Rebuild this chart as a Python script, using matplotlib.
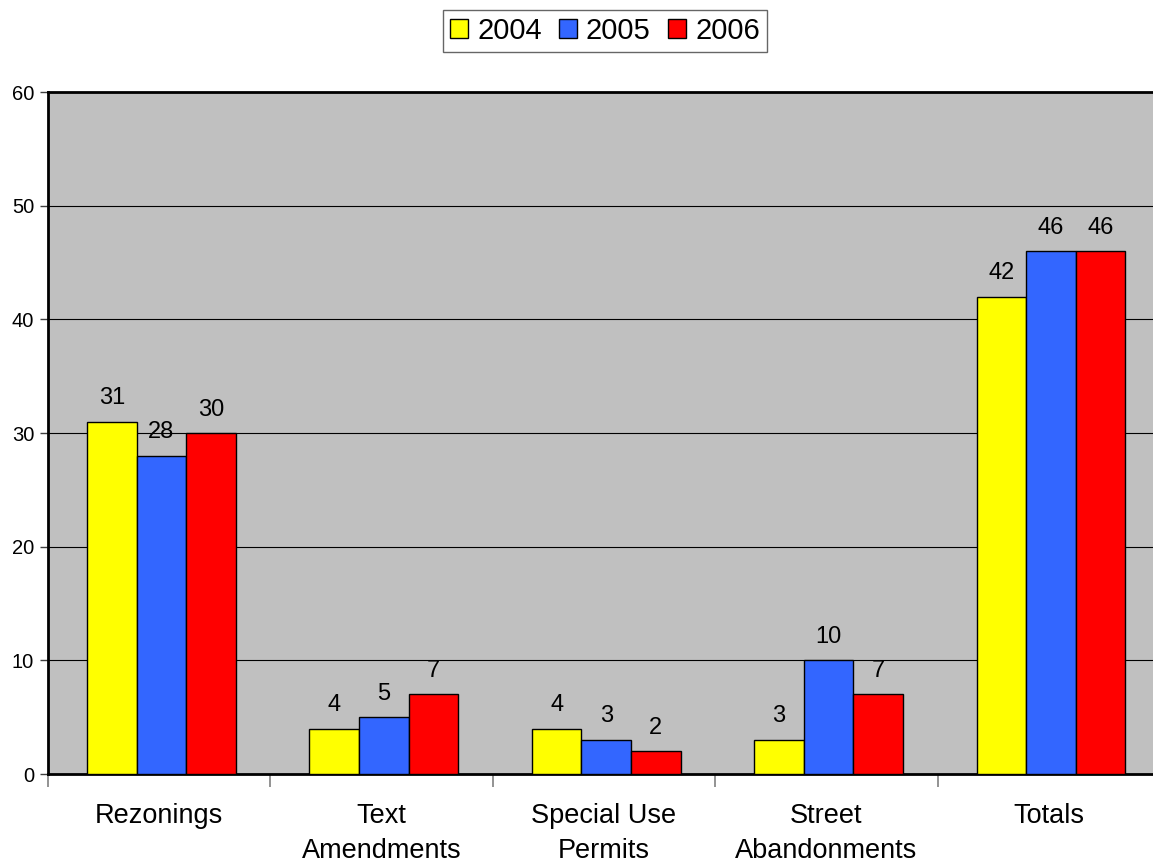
import numpy as np
import matplotlib.pyplot as plt

plt.rcParams['font.family'] = ['Liberation Sans', 'DejaVu Sans']

categories = ['Rezonings', 'Text\nAmendments', 'Special Use\nPermits', 'Street\nAbandonments', 'Totals']
years = ['2004', '2005', '2006']
vals_2004 = [31, 4, 4, 3, 42]
vals_2005 = [28, 5, 3, 10, 46]
vals_2006 = [30, 7, 2, 7, 46]
colors = ['#FFFF00', '#3366FF', '#FF0000']

fig = plt.figure(figsize=(11.53, 8.63), dpi=100)
# plot area runs a little past the right edge of the figure
ax = fig.add_axes([48 / 1153, 1 - 774 / 863, 1112 / 1153, 682 / 863])
ax.set_facecolor('#C0C0C0')

x = np.arange(len(categories))
w = 0.223
series = [vals_2004, vals_2005, vals_2006]
for i, (vals, c, yr) in enumerate(zip(series, colors, years)):
    pos = x + (i - 1) * w + 0.01
    bars = ax.bar(pos, vals, w, color=c, edgecolor='black', linewidth=1, label=yr, zorder=3)
    for b, v in zip(bars, vals):
        ax.annotate(str(v), (b.get_x() + b.get_width() / 2, v), xytext=(0, 9),
                    textcoords='offset points', ha='center', va='bottom', fontsize=17)

ax.set_xlim(-0.5, len(categories) - 0.5)
ax.set_ylim(0, 60)
ax.set_yticks(range(0, 61, 10))
ax.yaxis.grid(True, color='black', linewidth=0.8, zorder=0)
ax.set_axisbelow(True)
ax.tick_params(axis='y', labelsize=14.5, length=6, width=1, color='#404040', pad=4)

# category boundary ticks, labels centred without ticks
ax.set_xticks(np.arange(-0.5, len(categories), 1))
ax.set_xticklabels([])
ax.set_xticks(x, minor=True)
ax.set_xticklabels(categories, minor=True, fontsize=19.5, linespacing=1.45)
ax.tick_params(axis='x', which='minor', length=0, pad=21)
ax.tick_params(axis='x', which='major', length=9, width=1.2, color='#808080')

for side in ['top', 'left', 'bottom']:
    ax.spines[side].set_linewidth(2)
    ax.spines[side].set_color('black')
ax.spines['right'].set_visible(False)

leg = fig.legend(loc='center', bbox_to_anchor=(605 / 1153, 1 - 31 / 863), ncol=3, fontsize=21,
                 frameon=True, fancybox=False, edgecolor='#404040', handlelength=0.62,
                 handleheight=0.62, handletextpad=0.3, columnspacing=0.6, borderpad=0.25)
leg.get_frame().set_linewidth(1)

fig.savefig('out.png', dpi=100)
